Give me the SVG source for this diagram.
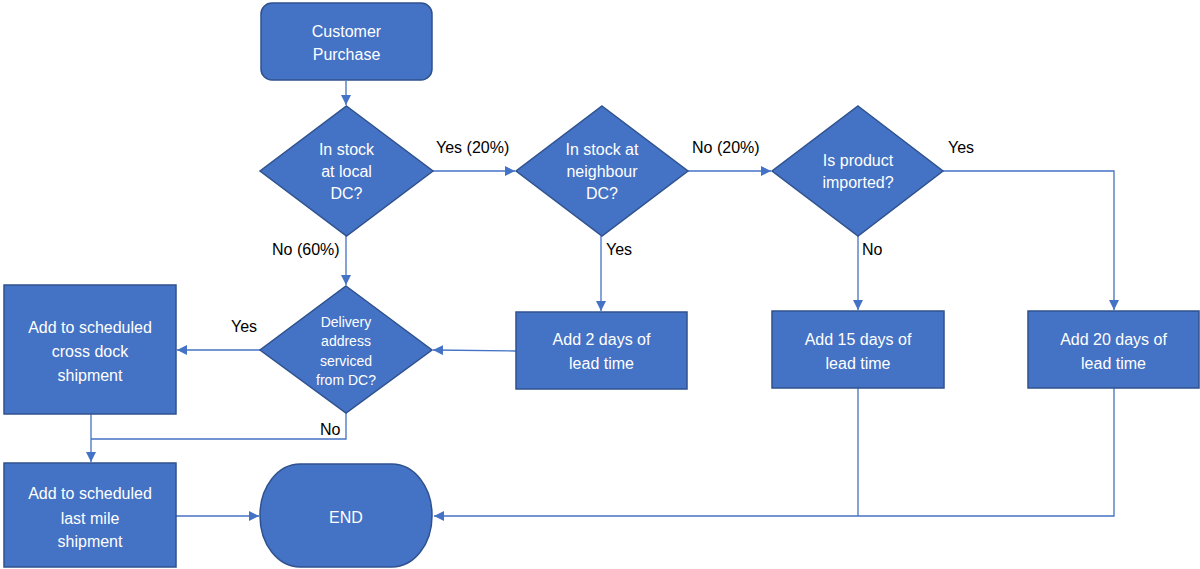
<svg xmlns="http://www.w3.org/2000/svg" width="1200" height="569" viewBox="0 0 1200 569">
<style>
.n{fill:#4472C4;stroke:#2F528F;stroke-width:1.5}
.t{fill:#fff;font-family:"Liberation Sans",Arial,sans-serif;font-size:16px;text-anchor:middle}
.s{font-size:14px}
.c{fill:none;stroke:#4472C4;stroke-width:1.3}
.l{fill:#000;font-family:"Liberation Sans",Arial,sans-serif;font-size:16px}
</style>
<defs>
<marker id="a" markerWidth="10" markerHeight="10" refX="10" refY="5" orient="auto" markerUnits="userSpaceOnUse">
<path d="M0,0 L10,5 L0,10 z" fill="#4472C4"/>
</marker>
</defs>
<g id="connectors">
<path class="c" d="M346,81 V105" marker-end="url(#a)"/>
<path class="c" d="M433,171 H515" marker-end="url(#a)"/>
<path class="c" d="M688,171 H771" marker-end="url(#a)"/>
<path class="c" d="M943,171 H1114 V310" marker-end="url(#a)"/>
<path class="c" d="M858,236 V310" marker-end="url(#a)"/>
<path class="c" d="M601,236 V311" marker-end="url(#a)"/>
<path class="c" d="M346,236 V285" marker-end="url(#a)"/>
<path class="c" d="M516,351 L433,350" marker-end="url(#a)"/>
<path class="c" d="M260,350 H177" marker-end="url(#a)"/>
<path class="c" d="M346,413 V439 H91"/>
<path class="c" d="M91,414 V462" marker-end="url(#a)"/>
<path class="c" d="M176,516 H259" marker-end="url(#a)"/>
<path class="c" d="M858,388 V516"/>
<path class="c" d="M1114,388 V516 H434" marker-end="url(#a)"/>
<text class="l" x="436" y="153">Yes (20%)</text>
<text class="l" x="692" y="153">No (20%)</text>
<text class="l" x="948" y="153">Yes</text>
<text class="l" x="272" y="255">No (60%)</text>
<text class="l" x="606" y="255">Yes</text>
<text class="l" x="862" y="255">No</text>
<text class="l" x="231" y="332">Yes</text>
<text class="l" x="320" y="435">No</text>
</g>
<g id="customer-purchase">
<rect class="n" x="261" y="3" width="171" height="77" rx="11"/>
<text class="t" x="346.5" y="37">Customer</text>
<text class="t" x="346.5" y="60">Purchase</text>
</g>
<g id="in-stock-local">
<polygon class="n" points="346.5,106 433,171 346.5,236 260,171"/>
<text class="t" x="346.5" y="155">In stock</text>
<text class="t" x="346.5" y="177">at local</text>
<text class="t" x="346.5" y="199">DC?</text>
</g>
<g id="in-stock-neighbour">
<polygon class="n" points="602,106 688,171 602,236 516,171"/>
<text class="t" x="602" y="155">In stock at</text>
<text class="t" x="602" y="177">neighbour</text>
<text class="t" x="602" y="199">DC?</text>
</g>
<g id="is-imported">
<polygon class="n" points="858,106 943,171 858,236 772,171"/>
<text class="t" x="858" y="166">Is product</text>
<text class="t" x="858" y="188">imported?</text>
</g>
<g id="delivery-address">
<polygon class="n" points="346,286 432,350 346,413 260,350"/>
<text class="t s" x="346" y="327">Delivery</text>
<text class="t s" x="346" y="346">address</text>
<text class="t s" x="346" y="366">serviced</text>
<text class="t s" x="346" y="385">from DC?</text>
</g>
<g id="add-2-days">
<rect class="n" x="516" y="312" width="171" height="77"/>
<text class="t" x="601.5" y="345">Add 2 days of</text>
<text class="t" x="601.5" y="369">lead time</text>
</g>
<g id="add-15-days">
<rect class="n" x="772" y="311" width="172" height="77"/>
<text class="t" x="858" y="345">Add 15 days of</text>
<text class="t" x="858" y="369">lead time</text>
</g>
<g id="add-20-days">
<rect class="n" x="1028" y="311" width="171" height="77"/>
<text class="t" x="1113.5" y="345">Add 20 days of</text>
<text class="t" x="1113.5" y="369">lead time</text>
</g>
<g id="cross-dock">
<rect class="n" x="4" y="285" width="172" height="129"/>
<text class="t" x="90" y="333">Add to scheduled</text>
<text class="t" x="90" y="357">cross dock</text>
<text class="t" x="90" y="381">shipment</text>
</g>
<g id="last-mile">
<rect class="n" x="4" y="463" width="172" height="104"/>
<text class="t" x="90" y="499">Add to scheduled</text>
<text class="t" x="90" y="524">last mile</text>
<text class="t" x="90" y="547">shipment</text>
</g>
<g id="end">
<rect class="n" x="260" y="464" width="172" height="103" rx="40" ry="51"/>
<text class="t" x="346" y="523">END</text>
</g>
</svg>
